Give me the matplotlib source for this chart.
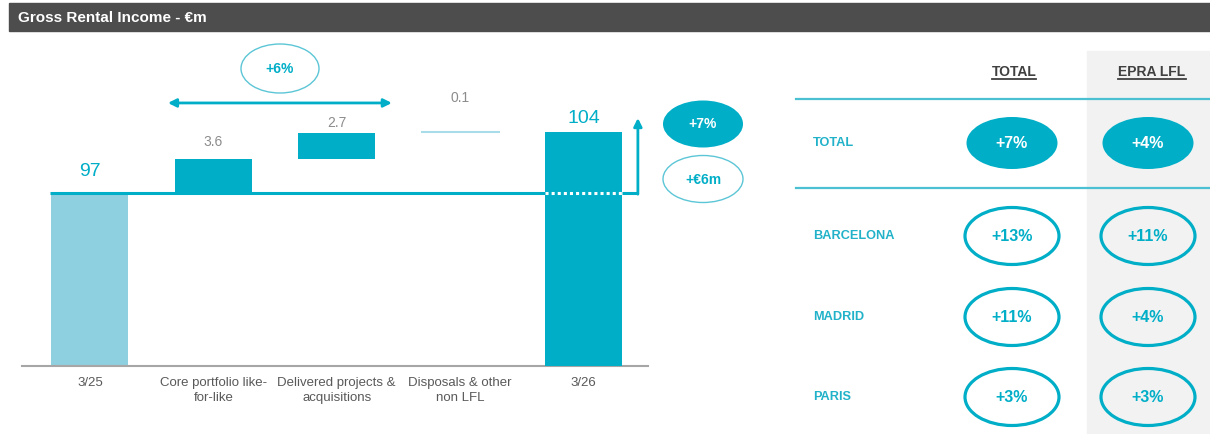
import matplotlib
matplotlib.use("Agg")
import matplotlib.pyplot as plt
from matplotlib.patches import Ellipse, Rectangle

plt.rcParams['font.family'] = ['Liberation Sans', 'DejaVu Sans']

# ---- data ----
categories = ["3/25", "Core portfolio like-\nfor-like", "Delivered projects &\nacquisitions",
              "Disposals & other\nnon LFL", "3/26"]
start_value = 97.0
steps = [3.6, 2.7, 0.1]
start_label = "97"
end_label = "104"
bridge_growth = "+6%"
total_growth = "+7%"
total_change = "+€6m"

table_cols = ["TOTAL", "EPRA LFL"]
table_rows = ["TOTAL", "BARCELONA", "MADRID", "PARIS"]
growth_total = ["+7%", "+13%", "+11%", "+3%"]
growth_lfl = ["+4%", "+11%", "+4%", "+3%"]

# ---- style ----
TEAL = "#00aec7"
LIGHT = "#8ecfe0"
THIN = "#a8dce8"
VAL_GREY = "#8c8c8c"
CAT_GREY = "#595959"
W, H = 1210, 434

fig = plt.figure(figsize=(W / 100, H / 100), dpi=100)

# waterfall axes: truncated y axis, ~9.6 px per unit
base = 79.0
ppu = 9.6
ax = fig.add_axes([22 / W, (H - 366) / H, (648 - 22) / W, (366 - 40) / H])
ax.set_ylim(base, base + (366 - 40) / ppu)
ax.set_xlim(-0.551, 4.523)
bw = 0.624

ax.bar(0, start_value - base, bottom=base, width=bw, color=LIGHT, zorder=2)
ax.text(0, start_value + 22 / ppu, start_label, ha="center", va="center",
        fontsize=14, color=TEAL)

label_off = [17, 10, 34]  # px above step top
cum = start_value
for i, s in enumerate(steps, start=1):
    if s >= 0.5:
        ax.bar(i, s, bottom=cum, width=bw, color=TEAL, zorder=2)
    else:
        ax.plot([i - bw / 2, i + bw / 2], [cum + s, cum + s], color=THIN, lw=1.5, zorder=2)
    ax.text(i, cum + s + label_off[i - 1] / ppu, f"{s:.1f}", ha="center", va="center",
            fontsize=10, color=VAL_GREY)
    cum += s
end_value = cum

# connector line at start level
ax.plot([-0.324, 3.69], [start_value, start_value], color=TEAL, lw=2.2,
        solid_capstyle="butt", zorder=3)
ax.bar(4, end_value - base, bottom=base, width=bw, color=TEAL, zorder=4)
ax.text(4, end_value + 13 / ppu, end_label, ha="center", va="center",
        fontsize=14, color=TEAL)
ax.plot([4 - bw / 2, 4 + bw / 2], [start_value, start_value], color="white", lw=2.2,
        dashes=(1, 1), zorder=5)
ax.plot([4 + bw / 2, 4.441], [start_value, start_value], color=TEAL, lw=2.2,
        solid_capstyle="butt", zorder=5)
ax.annotate("", xy=(4.441, start_value + 7.83), xytext=(4.441, start_value - 0.1),
            arrowprops=dict(arrowstyle="-|>", color=TEAL, lw=2, mutation_scale=12,
                            shrinkA=0, shrinkB=0), zorder=5)

# bridge double arrow
ax.annotate("", xy=(0.632, 106.4), xytext=(2.447, 106.4),
            arrowprops=dict(arrowstyle="<|-|>", color=TEAL, lw=2, mutation_scale=12,
                            shrinkA=0, shrinkB=0))

ax.set_xticks(range(len(categories)))
ax.set_xticklabels(categories, fontsize=9.5, color=CAT_GREY, linespacing=1.35)
ax.tick_params(axis="x", length=0, pad=8)
ax.set_yticks([])
for sp in ["left", "right", "top"]:
    ax.spines[sp].set_visible(False)
ax.spines["bottom"].set_color("#a6a6a6")
ax.spines["bottom"].set_linewidth(1.5)
ax.patch.set_alpha(0)

# overlay in pixel coordinates for header, bubbles and table
ov = fig.add_axes([0, 0, 1, 1], zorder=-1)
ov.set_xlim(0, W)
ov.set_ylim(H, 0)
ov.axis("off")

ov.add_patch(Rectangle((9, 3), W - 9, 28, color="#4d4d4d"))
ov.text(18, 17.5, "Gross Rental Income - €m", color="white", fontsize=11,
        fontweight="bold", va="center", ha="left")

ov.add_patch(Ellipse((280, 68.5), 78, 49, fc="none", ec="#5cc6d6", lw=1))
ov.text(280, 69, bridge_growth, ha="center", va="center", color=TEAL,
        fontsize=10, fontweight="bold")
ov.add_patch(Ellipse((703, 124), 80, 47, fc=TEAL, ec="none"))
ov.text(703, 124.5, total_growth, ha="center", va="center", color="white",
        fontsize=10, fontweight="bold")
ov.add_patch(Ellipse((703, 179), 80, 47, fc="none", ec="#5cc6d6", lw=1))
ov.text(703, 179.5, total_change, ha="center", va="center", color=TEAL,
        fontsize=10, fontweight="bold")

# table
ov.add_patch(Rectangle((1087, 51), W - 1087, H - 51, color="#f2f2f2", zorder=0))
col_x = [1012, 1148]
head_x = [1014, 1152]
row_y = [143, 236, 317, 397]
heads = []
for hx, name in zip(head_x, table_cols):
    heads.append(ov.text(hx, 72, name, ha="center", va="center", fontsize=10,
                         fontweight="bold", color="#404040"))
for yl in [99, 188]:
    ov.plot([796, W], [yl, yl], color="#4cc0d3", lw=1.6)

for r, (name, gt, gl) in enumerate(zip(table_rows, growth_total, growth_lfl)):
    y = row_y[r]
    ov.text(813, y, name, ha="left", va="center", fontsize=9.2, fontweight="bold",
            color="#21b2c9")
    for cx, val in zip(col_x, [gt, gl]):
        if r == 0:
            ov.add_patch(Ellipse((cx, y), 91, 52, fc=TEAL, ec="none", zorder=2))
            tc = "white"
        else:
            ov.add_patch(Ellipse((cx, y), 94, 57, fc="white" if cx < 1087 else "#f2f2f2",
                                 ec=TEAL, lw=2.3, zorder=2))
            tc = TEAL
        ov.text(cx, y + 0.5, val, ha="center", va="center", fontsize=11.5,
                fontweight="bold", color=tc, zorder=3)

# underline column headers
fig.canvas.draw()
inv = ov.transData.inverted()
for t in heads:
    bb = t.get_window_extent()
    (x0, _), (x1, _) = inv.transform([(bb.x0, bb.y0), (bb.x1, bb.y1)])
    ov.plot([x0, x1], [79, 79], color="#404040", lw=1.3)

fig.savefig("out.png", dpi=100)
